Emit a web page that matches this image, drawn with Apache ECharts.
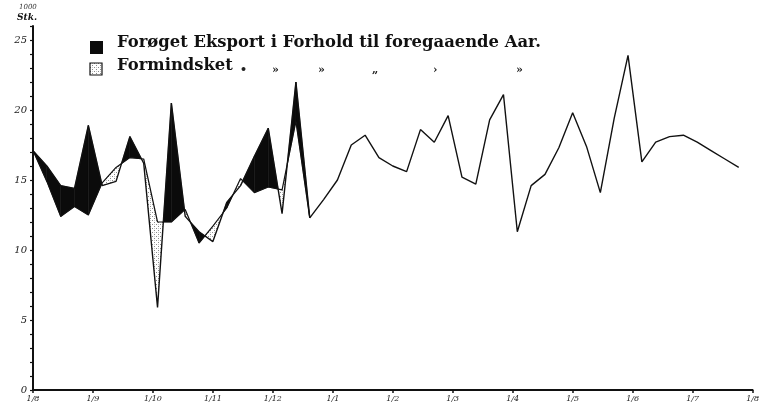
<!DOCTYPE html>
<html><head><meta charset="utf-8">
<script src="https://cdn.jsdelivr.net/npm/echarts@6/dist/echarts.min.js"></script>
<style>html,body{margin:0;padding:0;background:#fff}#c{width:762px;height:405px}</style>
</head><body><div id="c"></div>
<script>
// x-axis: month ticks (1 Aug .. 1 Aug), data are weekly
const monthLabels = ['1/8','1/9','1/10','1/11','1/12','1/1','1/2','1/3','1/4','1/5','1/6','1/7','1/8'];
const weeksInYear = 52;
// weekly values, 1000 Stk.
const mainValues = [17.1,16.0,14.6,14.4,18.9,14.6,14.9,18.1,16.2,5.9,
  20.5,12.4,11.3,10.6,13.4,14.6,16.7,18.7,12.6,22.0,
  12.3,13.6,15.0,17.5,18.2,16.6,16.0,15.6,18.6,17.7,
  19.6,15.2,14.7,19.3,21.1,11.3,14.6,15.4,17.3,19.8,
  17.4,14.1,19.4,23.9,16.3,17.7,18.1,18.2,17.7,17.1,
  16.5,15.9];
// comparison (foregaaende Aar) values, first weeks
const prevValues = [17.1,14.9,12.4,13.1,12.5,14.8,15.9,16.6,16.5,12.0,
  12.0,12.9,10.5,11.7,13.0,15.1,14.1,14.5,14.3,19.2,
  12.3];
const legendMain = 'Forøget Eksport i Forhold til foregaaende Aar.';
const legendLess = 'Formindsket';
const dittoMarks = ['•','»','»','„','›','»'];
const yUnitTop = '1000';
const yUnitBottom = 'Stk.';

const pc = document.createElement('canvas'); pc.width = 4; pc.height = 4;
const g = pc.getContext('2d');
g.fillStyle = '#ffffff'; g.fillRect(0,0,4,4);
g.fillStyle = '#8a8a8a'; g.fillRect(0,0,1,1); g.fillRect(2,2,1,1);
g.fillStyle = '#c8c8c8'; g.fillRect(2,0,1,1);
const stipple = {image: pc, repeat: 'repeat'};

const step = weeksInYear / 12;
const chart = echarts.init(document.getElementById('c'), null, {renderer: 'canvas'});

function renderFill(params, api) {
  const i = api.value(0);
  const m0 = mainValues[i], m1 = mainValues[i+1], o0 = prevValues[i], o1 = prevValues[i+1];
  const P = (x, y) => api.coord([x, y]);
  const d0 = m0 - o0, d1 = m1 - o1;
  const children = [];
  const add = (pts, d) => {
    if (Math.abs(d) < 1e-9) return;
    children.push({type: 'polygon', shape: {points: pts},
      style: {fill: d > 0 ? '#0b0b0b' : stipple, stroke: d > 0 ? '#0b0b0b' : null, lineWidth: 0.5}});
  };
  if (d0 * d1 >= 0) {
    add([P(i, m0), P(i+1, m1), P(i+1, o1), P(i, o0)], d0 !== 0 ? d0 : d1);
  } else {
    const t = d0 / (d0 - d1);
    const cx = i + t, cy = m0 + t * (m1 - m0);
    add([P(i, m0), P(cx, cy), P(i, o0)], d0);
    add([P(cx, cy), P(i+1, m1), P(i+1, o1)], d1);
  }
  return {type: 'group', children};
}

const dittoX = [240, 272, 318, 372, 433, 516];

chart.setOption({
  animation: false,
  backgroundColor: '#ffffff',
  grid: {left: 33, right: 9, top: 26, bottom: 15},
  xAxis: {
    type: 'value', min: 0, max: weeksInYear, interval: step,
    axisLine: {show: true, lineStyle: {color: '#111', width: 2}},
    axisTick: {show: true, length: 3, lineStyle: {color: '#111', width: 1.5}},
    splitLine: {show: false},
    axisLabel: {
      margin: 5, fontSize: 8, fontStyle: 'italic', fontFamily: 'DejaVu Serif', color: '#222',
      formatter: v => monthLabels[Math.round(v / step)] || ''
    }
  },
  yAxis: {
    type: 'value', min: 0, max: 26, interval: 1,
    axisLine: {show: true, lineStyle: {color: '#111', width: 2}},
    axisTick: {show: true, length: 3, lineStyle: {color: '#111', width: 1.2}},
    splitLine: {show: false},
    axisLabel: {
      margin: 6, fontSize: 10, fontStyle: 'italic', fontFamily: 'DejaVu Serif', color: '#222',
      formatter: v => (v % 5 === 0 ? String(v) : '')
    }
  },
  graphic: [
    {type: 'text', x: 19, y: 4, style: {text: yUnitTop, font: 'italic 7px "DejaVu Serif"', fill: '#333'}},
    {type: 'text', x: 17, y: 13, style: {text: yUnitBottom, font: 'italic bold 9px "DejaVu Serif"', fill: '#111'}},
    {type: 'rect', x: 90, y: 41, shape: {width: 13, height: 13}, style: {fill: '#0b0b0b'}},
    {type: 'text', x: 117, y: 35, style: {text: legendMain, font: 'bold 16.4px "DejaVu Serif"', fill: '#111'}},
    {type: 'rect', x: 90, y: 63, shape: {width: 12, height: 12}, style: {fill: stipple, stroke: '#111', lineWidth: 1.2}},
    {type: 'text', x: 117, y: 58, style: {text: legendLess, font: 'bold 16.4px "DejaVu Serif"', fill: '#111'}}
  ].concat(dittoMarks.map((m, k) => ({type: 'text', x: dittoX[k], y: 65,
    style: {text: m, font: 'bold 11px "DejaVu Serif"', fill: '#222'}}))),
  series: [
    {type: 'custom', name: 'fill', renderItem: renderFill, z: 1,
      data: prevValues.slice(0, -1).map((v, i) => [i, v]), encode: {x: 0, y: 1}, silent: true},
    {type: 'line', name: 'prev', z: 3, symbol: 'none', data: prevValues.map((v, i) => [i, v]),
      lineStyle: {color: '#111', width: 1.2}},
    {type: 'line', name: 'main', z: 4, symbol: 'none', data: mainValues.map((v, i) => [i, v]),
      lineStyle: {color: '#111', width: 1.4}}
  ]
});
</script></body></html>
